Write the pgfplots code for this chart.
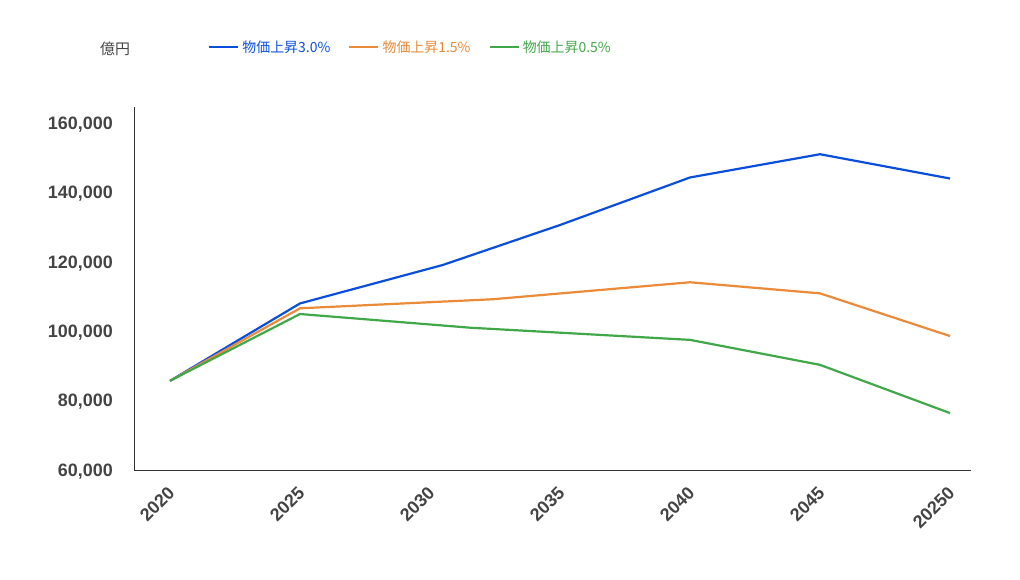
\documentclass[border=0pt]{standalone}
\usepackage{pgfplots}
\pgfplotsset{compat=1.18}
\usepackage{fontspec}
\setmainfont{Liberation Sans}
\newfontfamily\cjk{Noto Sans CJK JP}
\definecolor{cblue}{HTML}{0A4FDC}
\definecolor{corange}{HTML}{EB8A38}
\definecolor{cgreen}{HTML}{41A84A}
\definecolor{ctext}{HTML}{444444}
\definecolor{caxis}{HTML}{333333}
\begin{document}
\begin{tikzpicture}
\useasboundingbox (0,0) rectangle (1020bp,580bp);
\begin{axis}[
  at={(134bp,110bp)}, anchor=south west,
  scale only axis, width=836.7bp, height=363bp,
  xmin=-0.277, xmax=6.159,
  ymin=60000, ymax=164610,
  axis x line=bottom, axis y line=left,
  axis line style={-, draw=caxis, line width=0.9bp},
  major tick length=0pt,
  xtick={0,1,2,3,4,5,6},
  xticklabels={2020,2025,2030,2035,2040,2045,20250},
  ytick={60000,80000,100000,120000,140000,160000},
  scaled y ticks=false,
  /pgf/number format/assume math mode=true,
  yticklabel={\pgfmathprintnumber[fixed,1000 sep={,}]{\tick}},
  yticklabel style={font=\fontsize{18}{20}\selectfont\bfseries, text=ctext, anchor=east, inner sep=0pt, xshift=-21bp, yshift=-1.5bp},
  xticklabel style={font=\fontsize{18}{20}\selectfont\bfseries, text=ctext, rotate=45, anchor=east, inner sep=0pt, xshift=-13bp, yshift=-15bp},
  every axis y label/.style={at={(rel axis cs:-0.0227,1.160)}, anchor=center},
  ylabel={\cjk\fontsize{15}{17}\selectfont\color{ctext}億円},
  legend columns=3,
  legend image code/.code={\draw[#1, line width=2.2bp] (0bp,0bp) -- (29bp,0bp);},
  legend style={draw=none, fill=none, inner sep=0pt, at={(rel axis cs:0.0884,1.165)}, anchor=west,
    font=\cjk\fontsize{14}{16}\selectfont,
    nodes={inner sep=3bp},
    /tikz/every even column/.append style={column sep=15bp}},
  clip=false,
]
\addplot[cblue, line width=2.2bp] coordinates {(0,85700) (1,108000) (2.1,119100) (3,130600) (4,144300) (5,151000) (6,144000)};
\addlegendentry{\textcolor{cblue}{物価上昇3.0\%}}
\addplot[corange, line width=2.2bp] coordinates {(0,85700) (1,106600) (2.48,109200) (4,114100) (5,110900) (6,98600)};
\addlegendentry{\textcolor{corange}{物価上昇1.5\%}}
\addplot[cgreen, line width=2.2bp] coordinates {(0,85700) (1,104950) (2.31,101000) (4,97500) (5,90300) (6,76400)};
\addlegendentry{\textcolor{cgreen}{物価上昇0.5\%}}
\end{axis}
\end{tikzpicture}
\end{document}
